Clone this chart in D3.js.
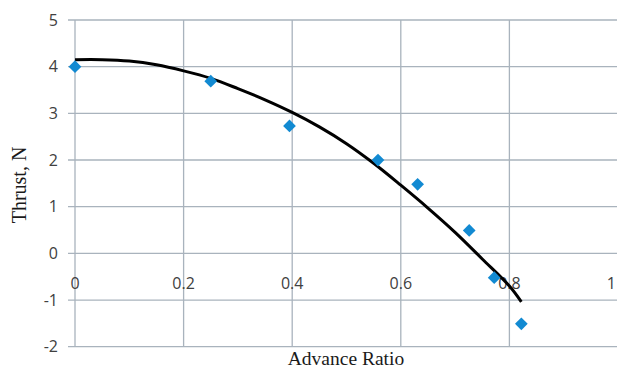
<!DOCTYPE html>
<html>
<head>
<meta charset="utf-8">
<script src="https://cdn.jsdelivr.net/npm/d3@7"></script>
<style>
html,body{margin:0;padding:0;background:#fff;}
svg{display:block;}
</style>
</head>
<body>
<svg id="chart" width="617" height="369"></svg>
<script>
// Measured data points (Advance Ratio, Thrust N)
const advanceRatio = [0, 0.25, 0.395, 0.558, 0.631, 0.726, 0.772, 0.822];
const thrust       = [4.0, 3.69, 2.73, 2.0, 1.48, 0.49, -0.52, -1.51];
// Trendline
const trendX = [0, 0.05, 0.1, 0.15, 0.2, 0.25, 0.3, 0.35, 0.4, 0.45, 0.5, 0.55, 0.6, 0.65, 0.7, 0.75, 0.8, 0.822];
const trendY = [4.15, 4.15, 4.12, 4.04, 3.91, 3.75, 3.53, 3.29, 3.02, 2.71, 2.35, 1.93, 1.46, 0.97, 0.45, -0.12, -0.70, -1.04];
const xTicks = [0, 0.2, 0.4, 0.6, 0.8, 1];
const xTickLabels = ["0", "0.2", "0.4", "0.6", "0.8", "1"];
const yTicks = [-2, -1, 0, 1, 2, 3, 4, 5];
const yTickLabels = ["-2", "-1", "0", "1", "2", "3", "4", "5"];

const svg = d3.select("#chart");
const x = d3.scaleLinear().domain([0, 1]).range([75, 618]);
const y = d3.scaleLinear().domain([-2, 5]).range([346.7, 20]);
const gridColor = "#a9b3bd";
const textColor = "#404040";

// gridlines
svg.append("g").selectAll("line").data(yTicks).join("line")
  .attr("x1", 68).attr("x2", 618)
  .attr("y1", d => y(d)).attr("y2", d => y(d))
  .attr("stroke", gridColor).attr("stroke-width", 1.3);
svg.append("g").selectAll("line").data(xTicks).join("line")
  .attr("x1", d => x(d)).attr("x2", d => x(d))
  .attr("y1", y(5)).attr("y2", y(-2))
  .attr("stroke", gridColor).attr("stroke-width", 1.3);

// y tick labels
svg.append("g").selectAll("text").data(yTicks).join("text")
  .attr("x", 58).attr("y", d => y(d)).attr("dy", "0.36em")
  .attr("text-anchor", "end")
  .attr("font-family", "Open Sans, sans-serif").attr("font-size", 16)
  .attr("fill", textColor)
  .text((d, i) => yTickLabels[i]);

// x tick labels (next to y=0 axis)
svg.append("g").selectAll("text").data(xTicks).join("text")
  .attr("x", d => x(d)).attr("y", y(0) + 36)
  .attr("text-anchor", d => d === 1 ? "end" : "middle")
  .attr("dx", d => d === 1 ? -2 : 0)
  .attr("font-family", "Open Sans, sans-serif").attr("font-size", 16)
  .attr("fill", textColor)
  .text((d, i) => xTickLabels[i]);

// trendline
const trend = trendX.map((d, i) => [d, trendY[i]]);
svg.append("path").datum(trend)
  .attr("d", d3.line().x(d => x(d[0])).y(d => y(d[1])).curve(d3.curveCatmullRom.alpha(0.5)))
  .attr("fill", "none").attr("stroke", "#000").attr("stroke-width", 3);

// diamonds
const pts = advanceRatio.map((d, i) => [d, thrust[i]]);
svg.append("g").selectAll("path").data(pts).join("path")
  .attr("transform", d => `translate(${x(d[0])},${y(d[1])}) rotate(45)`)
  .attr("d", "M-4.5,-4.5H4.5V4.5H-4.5Z")
  .attr("fill", "#128ad2");

// axis titles
svg.append("text")
  .attr("x", 346).attr("y", 365)
  .attr("text-anchor", "middle")
  .attr("font-family", "Liberation Serif, Times New Roman, serif").attr("font-size", 19.5)
  .attr("fill", "#1a1a1a")
  .text("Advance Ratio");
svg.append("text")
  .attr("transform", "translate(26,185) rotate(-90)")
  .attr("text-anchor", "middle")
  .attr("font-family", "Liberation Serif, Times New Roman, serif").attr("font-size", 20)
  .attr("fill", "#1a1a1a")
  .text("Thrust, N");
</script>
</body>
</html>
